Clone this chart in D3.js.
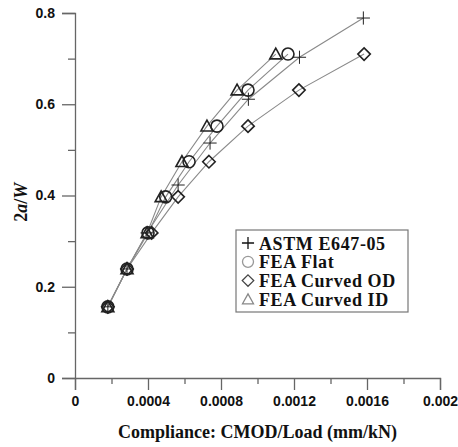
<!DOCTYPE html>
<html>
<head>
<meta charset="utf-8">
<script src="https://cdn.jsdelivr.net/npm/d3@7"></script>
<style>
  body { margin: 0; background: #fff; }
  svg { display: block; }
</style>
</head>
<body>
<div id="chart"></div>
<script>
// a/W levels shared by the three FEA series
const feaRatio = [0.156, 0.239, 0.318, 0.397, 0.474, 0.552, 0.631, 0.710];

const astmCompliance = [0.00018, 0.000285, 0.000395, 0.000565, 0.00074, 0.00095, 0.00123, 0.00158];
const astmRatio = [0.156, 0.239, 0.318, 0.423, 0.515, 0.611, 0.703, 0.789];

const flatCompliance = [0.00018, 0.000285, 0.0004, 0.000497, 0.000625, 0.000778, 0.000948, 0.001167];
const odCompliance = [0.00018, 0.000285, 0.00042, 0.000565, 0.000734, 0.000948, 0.001227, 0.001584];
const idCompliance = [0.00018, 0.000285, 0.000395, 0.000472, 0.000586, 0.000723, 0.000888, 0.0011];

const xTicks = [0, 0.0004, 0.0008, 0.0012, 0.0016, 0.002];
const yTicks = [0, 0.2, 0.4, 0.6, 0.8];

const series = [
    { name: 'ASTM E647-05', symbol: 'cross', x: astmCompliance, y: astmRatio },
    { name: 'FEA Flat', symbol: 'circle', x: flatCompliance, y: feaRatio },
    { name: 'FEA Curved OD', symbol: 'diamond', x: odCompliance, y: feaRatio },
    { name: 'FEA Curved ID', symbol: 'triangle', x: idCompliance, y: feaRatio }
];

const width = 458, height = 447;
const margin = { left: 75, right: 18, top: 13, bottom: 69 };

const svg = d3.select('#chart').append('svg')
    .attr('width', width)
    .attr('height', height);

const x = d3.scaleLinear([0, 0.002], [margin.left, width - margin.right]);
const y = d3.scaleLinear([0, 0.8], [height - margin.bottom, margin.top]);

const axisColor = '#666';
const sans = '"Liberation Sans", Arial, sans-serif';
const serif = '"Liberation Serif", "Times New Roman", serif';

// x axis
svg.append('g')
    .attr('transform', `translate(0,${y(0)})`)
    .call(d3.axisBottom(x).tickValues(xTicks).tickSize(12).tickPadding(6)
        .tickFormat(d => d === 0 ? '0' : d3.format('.4~f')(d)));
svg.append('g')
    .attr('transform', `translate(0,${y(0)})`)
    .call(d3.axisBottom(x).tickValues(d3.range(0.0002, 0.002, 0.0004)).tickSize(6).tickFormat(''))
    .call(g => g.select('.domain').remove());

// y axis
svg.append('g')
    .attr('transform', `translate(${x(0)},0)`)
    .call(d3.axisLeft(y).tickValues(yTicks).tickSize(13).tickPadding(7)
        .tickFormat(d => d === 0 ? '0' : d3.format('.1f')(d)));
svg.append('g')
    .attr('transform', `translate(${x(0)},0)`)
    .call(d3.axisLeft(y).tickValues([0.1, 0.3, 0.5, 0.7]).tickSize(7).tickFormat(''))
    .call(g => g.select('.domain').remove());

svg.selectAll('.domain').attr('stroke', axisColor).attr('stroke-width', 1.3);
svg.selectAll('.tick line').attr('stroke', axisColor).attr('stroke-width', 1.3);
svg.selectAll('.tick text')
    .attr('fill', '#111')
    .attr('font-family', sans)
    .attr('font-weight', 'bold')
    .attr('font-size', 14);

// axis titles
svg.append('text')
    .attr('x', (x(0) + x(0.002)) / 2)
    .attr('y', 438)
    .attr('text-anchor', 'middle')
    .attr('font-family', serif)
    .attr('font-weight', 'bold')
    .attr('font-size', 18)
    .attr('fill', '#111')
    .text('Compliance: CMOD/Load (mm/kN)');

const yTitle = svg.append('text')
    .attr('transform', `translate(27,${y(0.385)}) rotate(-90)`)
    .attr('text-anchor', 'middle')
    .attr('font-family', serif)
    .attr('font-weight', 'bold')
    .attr('font-size', 18)
    .attr('fill', '#111');
yTitle.append('tspan').text('2');
yTitle.append('tspan').attr('font-style', 'italic').text('a');
yTitle.append('tspan').text('/');
yTitle.append('tspan').attr('font-style', 'italic').text('W');

// markers
function marker(g, symbol, s) {
    if (symbol === 'circle') {
        g.append('circle').attr('r', s * 0.5).attr('fill', 'none');
    } else if (symbol === 'diamond') {
        const h = s * 0.52;
        g.append('path').attr('d', `M0,${-h}L${h},0L0,${h}L${-h},0Z`).attr('fill', 'none');
    } else if (symbol === 'triangle') {
        const h = s * 0.5;
        g.append('path').attr('d', `M0,${-h}L${h},${h * 0.8}L${-h},${h * 0.8}Z`).attr('fill', 'none');
    } else {
        const h = s * 0.55;
        g.append('path').attr('d', `M${-h},0H${h}M0,${-h}V${h}`);
    }
}

const line = d3.line().x(d => x(d[0])).y(d => y(d[1]));

series.forEach(s => {
    const pts = s.x.map((v, i) => [v, s.y[i]]);
    svg.append('path')
        .datum(pts)
        .attr('d', line)
        .attr('fill', 'none')
        .attr('stroke', '#8a8a8a')
        .attr('stroke-width', 1.1);
});

series.forEach(s => {
    const pts = s.x.map((v, i) => [v, s.y[i]]);
    svg.append('g')
        .attr('stroke', '#222')
        .attr('stroke-width', s.symbol === 'cross' ? 1 : 1.6)
        .selectAll('g')
        .data(pts)
        .join('g')
        .attr('transform', d => `translate(${x(d[0])},${y(d[1])})`)
        .each(function () { marker(d3.select(this), s.symbol, 12); });
});

// legend
const legend = svg.append('g').attr('transform', 'translate(236,230)');
legend.append('rect')
    .attr('width', 172)
    .attr('height', 82)
    .attr('fill', '#fff')
    .attr('stroke', '#777')
    .attr('stroke-width', 1.2);

const legendColor = { cross: '#111', circle: '#999', diamond: '#444', triangle: '#888' };
series.forEach((s, i) => {
    const row = legend.append('g').attr('transform', `translate(0,${13 + i * 18.8})`);
    const m = row.append('g')
        .attr('transform', 'translate(12,0)')
        .attr('stroke', legendColor[s.symbol])
        .attr('stroke-width', 1.3);
    marker(m, s.symbol, 11);
    row.append('text')
        .attr('x', 23)
        .attr('y', 6.5)
        .attr('font-family', serif)
        .attr('font-weight', 'bold')
        .attr('font-size', 18)
        .attr('letter-spacing', 0.6)
        .attr('fill', '#111')
        .text(s.name);
});
</script>
</body>
</html>
